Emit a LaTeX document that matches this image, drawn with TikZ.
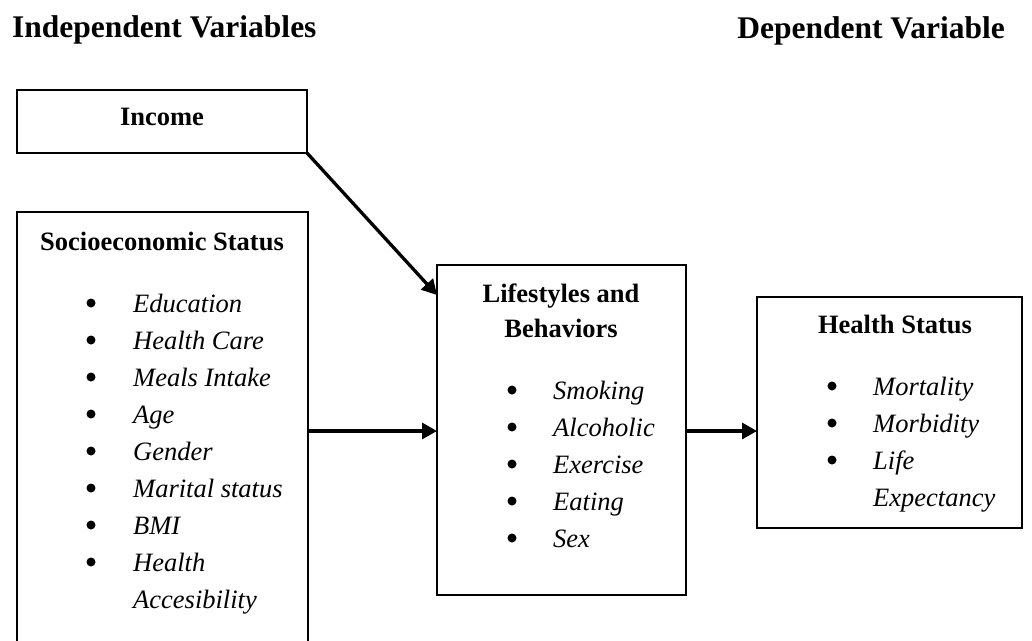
\documentclass[tikz,border=0pt]{standalone}
\usepackage{fontspec}
\setmainfont{Liberation Serif}
\usetikzlibrary{arrows.meta}
\begin{document}
\begin{tikzpicture}[x=1pt,y=-1pt,
  box/.style={draw,line width=1.8pt,inner sep=0pt,outer sep=0pt,anchor=north west},
  ttl/.style={font=\fontsize{31.5}{36}\selectfont\bfseries,inner sep=0pt,anchor=base west},
  hd/.style={font=\fontsize{26.5}{35}\selectfont\bfseries,inner sep=0pt,anchor=base},
  itm/.style={font=\fontsize{26.5}{37}\selectfont\itshape,inner sep=0pt,anchor=base west},
  bul/.style={circle,fill,inner sep=0pt,minimum size=9pt},
  conn/.style={line width=3.3pt,-{Triangle[length=15pt,width=16pt]}}]
\clip (0,0) rectangle (1032,640);
\fill[white] (0,0) rectangle (1032,640);

% titles
\node[ttl] (indep) at (12,37) {Independent Variables};
\node[ttl,anchor=base east] (dep) at (1005,38) {Dependent Variable};

% boxes
\node[box,minimum width=290pt,minimum height=63pt] (inc) at (17,90) {};
\node[box,minimum width=291pt,minimum height=470pt] (soc) at (17,212) {};
\node[box,minimum width=249pt,minimum height=330pt] (life) at (437,265) {};
\node[box,minimum width=265pt,minimum height=231pt] (hs) at (757,297) {};

% income
\node[hd] (inct) at (162,125) {Income};

% socioeconomic
\node[hd] (soct) at (162,250) {Socioeconomic Status};
\node[bul] (sb1) at (91,303) {};
\node[itm] (s1) at (133,312) {Education};
\node[bul] (sb2) at (91,340) {};
\node[itm] (s2) at (133,349) {Health Care};
\node[bul] (sb3) at (91,377) {};
\node[itm] (s3) at (133,386) {Meals Intake};
\node[bul] (sb4) at (91,414) {};
\node[itm] (s4) at (133,423) {Age};
\node[bul] (sb5) at (91,451) {};
\node[itm] (s5) at (133,460) {Gender};
\node[bul] (sb6) at (91,488) {};
\node[itm] (s6) at (133,497) {Marital status};
\node[bul] (sb7) at (91,525) {};
\node[itm] (s7) at (133,534) {BMI};
\node[bul] (sb8) at (91,562) {};
\node[itm] (s8) at (133,571) {Health};
\node[itm] (s9) at (133,608) {Accesibility};

% lifestyles
\node[hd] (lt1) at (561,302) {Lifestyles and};
\node[hd] (lt2) at (561,337) {Behaviors};
\node[bul] (lb1) at (512,390) {};
\node[itm] (l1) at (553,399) {Smoking};
\node[bul] (lb2) at (512,427) {};
\node[itm] (l2) at (553,436) {Alcoholic};
\node[bul] (lb3) at (512,464) {};
\node[itm] (l3) at (553,473) {Exercise};
\node[bul] (lb4) at (512,501) {};
\node[itm] (l4) at (553,510) {Eating};
\node[bul] (lb5) at (512,538) {};
\node[itm] (l5) at (553,547) {Sex};

% health status
\node[hd] (hst) at (895,333) {Health Status};
\node[bul] (hb1) at (832,386) {};
\node[itm] (h1) at (873,395) {Mortality};
\node[bul] (hb2) at (832,423) {};
\node[itm] (h2) at (873,432) {Morbidity};
\node[bul] (hb3) at (832,460) {};
\node[itm] (h3) at (873,469) {Life};
\node[itm] (h4) at (873,506) {Expectancy};

% connectors
\coordinate (ya) at (0,431);
\coordinate (yb) at (0,295);
\draw[conn] (inc.south east) -- (life.west |- yb);
\draw[conn] (soc.east |- ya) -- (life.west |- ya);
\draw[conn] (life.east |- ya) -- (hs.west |- ya);
\end{tikzpicture}
\end{document}
